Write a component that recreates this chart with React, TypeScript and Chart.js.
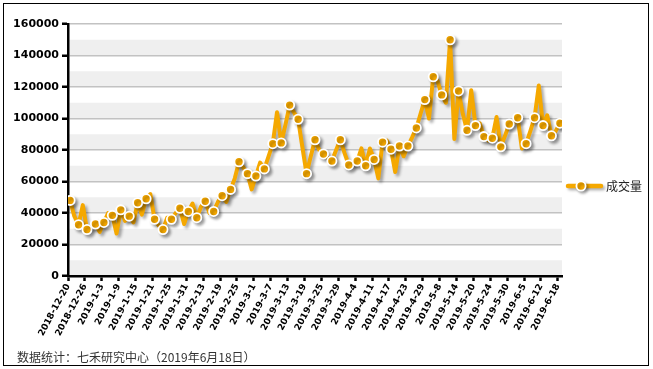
import React, { useEffect, useRef } from "react";
import { Chart, registerables } from "chart.js";

Chart.register(...registerables);

// X-axis tick labels (every 4th trading day)
const tickLabels = [
  "2018-12-20", "2018-12-26", "2019-1-3", "2019-1-9", "2019-1-15", "2019-1-21",
  "2019-1-25", "2019-1-31", "2019-2-13", "2019-2-19", "2019-2-25", "2019-3-1",
  "2019-3-7", "2019-3-13", "2019-3-19", "2019-3-25", "2019-3-29", "2019-4-4",
  "2019-4-11", "2019-4-17", "2019-4-23", "2019-4-29", "2019-5-8", "2019-5-14",
  "2019-5-20", "2019-5-24", "2019-5-30", "2019-6-5", "2019-6-12", "2019-6-18",
];

const seriesName = "成交量";

// Daily volume (117 trading days)
const volumes = [
  48000, 38000, 32500, 45000, 29500, 31000, 33000, 28000, 34000, 40000,
  38500, 27000, 42000, 35000, 38000, 34000, 46500, 39000, 49000, 52000,
  36000, 32000, 29500, 37000, 36000, 40000, 43000, 33000, 41000, 46000,
  37000, 44000, 47500, 40000, 41000, 47000, 51000, 47000, 55000, 62000,
  72500, 69000, 65000, 55000, 63500, 72000, 68000, 76000, 84000, 104000,
  84500, 96000, 108500, 104000, 99500, 82000, 65000, 76000, 86500, 80000,
  77500, 75000, 73000, 80000, 86500, 78000, 70500, 71000, 73000, 81000,
  70000, 81000, 74000, 62000, 85000, 86000, 80500, 66000, 82500, 76000,
  82500, 88000, 94000, 103000, 112000, 100000, 126500, 124000, 115000, 110000,
  150000, 87000, 117500, 103000, 92500, 118000, 95500, 97000, 88500, 86000,
  87500, 101000, 82000, 89000, 96500, 97000, 100500, 81000, 84000, 92000,
  100500, 121000, 95500, 102000, 89000, 92000, 97000,
];

const footerText = "数据统计：七禾研究中心（2019年6月18日）";

const Y_MAX = 160000;
const Y_STEP = 10000;
const Y_LABEL_STEP = 20000;

export default function App() {
  const ref = useRef<HTMLCanvasElement>(null);

  useEffect(() => {
    const canvas = ref.current;
    if (!canvas) return;
    const ORANGE = "#F5A800";
    const SHADOW = "rgba(0,0,0,0.33)";

    const bandsPlugin = {
      id: "bands",
      beforeDraw(chart: any) {
        const { ctx, chartArea: a, scales } = chart;
        const y = scales.y;
        ctx.save();
        ctx.fillStyle = "#efefef";
        for (let v = 0; v < Y_MAX; v += 2 * Y_STEP) {
          const top = y.getPixelForValue(v + Y_STEP);
          const bot = y.getPixelForValue(v);
          ctx.fillRect(a.left, top, a.right - a.left, bot - top);
        }
        ctx.restore();
      },
    };

    const shadowPlugin = {
      id: "lineShadow",
      beforeDatasetDraw(chart: any) {
        const ctx = chart.ctx;
        ctx.save();
        ctx.shadowColor = SHADOW;
        ctx.shadowOffsetX = 2.5;
        ctx.shadowOffsetY = 2.5;
        ctx.shadowBlur = 3;
      },
      afterDatasetDraw(chart: any) {
        chart.ctx.restore();
      },
    };

    const decorPlugin = {
      id: "decor",
      afterDraw(chart: any) {
        const ctx = chart.ctx;
        ctx.save();
        // outer frame
        ctx.strokeStyle = "#000";
        ctx.lineWidth = 1;
        ctx.strokeRect(3.5, 3.5, 645, 362);

        // legend
        const ly = 186;
        ctx.save();
        ctx.shadowColor = SHADOW;
        ctx.shadowOffsetX = 2;
        ctx.shadowOffsetY = 2;
        ctx.shadowBlur = 3;
        ctx.strokeStyle = ORANGE;
        ctx.lineWidth = 4.5;
        ctx.lineCap = "round";
        ctx.beginPath();
        ctx.moveTo(568, ly);
        ctx.lineTo(601, ly);
        ctx.stroke();
        ctx.beginPath();
        ctx.arc(581, ly, 4.6, 0, Math.PI * 2);
        ctx.fillStyle = ORANGE;
        ctx.fill();
        ctx.lineWidth = 1.8;
        ctx.strokeStyle = "#fff";
        ctx.stroke();
        ctx.restore();

        ctx.fillStyle = "#222";
        ctx.font = "12px 'Noto Sans CJK SC', sans-serif";
        ctx.textBaseline = "middle";
        ctx.textAlign = "left";
        ctx.fillText(chart.data.datasets[0].label, 606, ly + 0.5);

        // footer
        ctx.fillStyle = "#333";
        ctx.font = "12px 'Noto Sans CJK SC', sans-serif";
        ctx.fillText(footerText, 17, 357);
        ctx.restore();
      },
    };

    const chart = new Chart(canvas, {
      type: "line",
      data: {
        datasets: [
          {
            label: seriesName,
            data: volumes.map((v, i) => ({ x: i, y: v })),
            borderColor: ORANGE,
            backgroundColor: ORANGE,
            borderWidth: 4,
            borderJoinStyle: "round",
            borderCapStyle: "round",
            tension: 0,
            fill: false,
            pointRadius: (c: any) => (c.dataIndex % 2 === 0 ? 4.6 : 0),
            pointHoverRadius: 0,
            pointBackgroundColor: ORANGE,
            pointBorderColor: "#fff",
            pointBorderWidth: 1.8,
          },
        ],
      },
      options: {
        animation: false,
        responsive: false,
        events: [],
        layout: { padding: { top: 24, right: 91, bottom: 0, left: 0 } },
        plugins: {
          legend: { display: false },
          tooltip: { enabled: false },
        },
        scales: {
          x: {
            type: "linear",
            min: -0.5,
            max: volumes.length - 0.5,
            afterBuildTicks: (s: any) => {
              s.ticks = tickLabels.map((_, k) => ({ value: k * 4 - 0.5 }));
            },
            afterFit: (s: any) => {
              s.height = 93;
            },
            grid: {
              display: true,
              drawOnChartArea: false,
              tickLength: 5,
              tickWidth: 2.5,
              tickColor: "#000",
            },
            border: { color: "#000", width: 2.5 },
            ticks: {
              autoSkip: false,
              minRotation: 62,
              maxRotation: 62,
              padding: 1,
              color: "#000",
              font: { family: "'DejaVu Sans', sans-serif", size: 9, weight: "bold" },
              callback: (v: any) => tickLabels[Math.round((Number(v) + 0.5) / 4)] ?? "",
            },
          },
          y: {
            min: 0,
            max: Y_MAX,
            afterFit: (s: any) => {
              s.width = 68;
            },
            grid: {
              color: "#c2c2c2",
              lineWidth: 1.5,
              tickLength: 6,
              tickWidth: 2.5,
              tickColor: (c: any) =>
                c.tick && c.tick.value % Y_LABEL_STEP === 0 ? "#000" : "rgba(0,0,0,0)",
            },
            border: { color: "#000", width: 2.5 },
            ticks: {
              stepSize: Y_STEP,
              padding: 3,
              color: "#000",
              font: { family: "'DejaVu Sans', sans-serif", size: 11, weight: "bold" },
              callback: (v: any) => (Number(v) % Y_LABEL_STEP === 0 ? String(v) : ""),
            },
          },
        },
      },
      plugins: [bandsPlugin, shadowPlugin, decorPlugin],
    } as any);

    return () => chart.destroy();
  }, []);

  return (
    <div style={{ position: "fixed", left: 0, top: 0, width: 653, height: 369, background: "#fff" }}>
      <canvas ref={ref} width={653} height={369} style={{ display: "block" }} />
    </div>
  );
}
